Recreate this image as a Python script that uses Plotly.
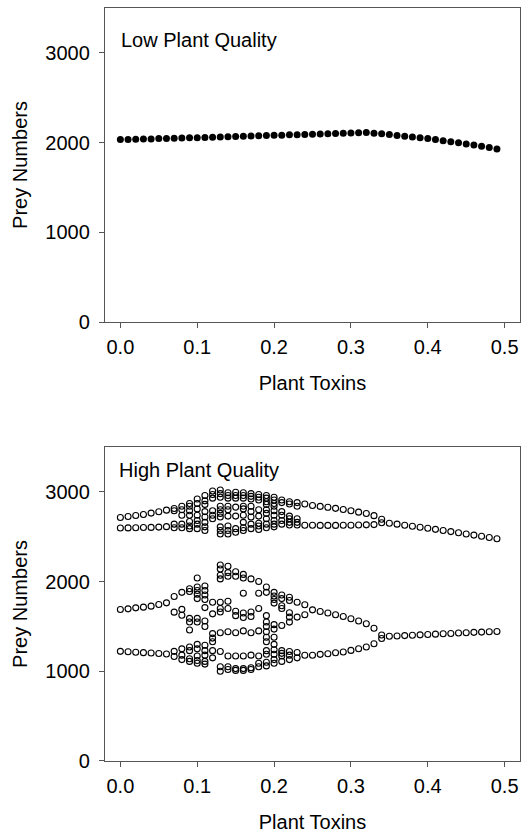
import plotly.graph_objects as go

# ---- data ----
toxins = [0.00, 0.01, 0.02, 0.03, 0.04, 0.05, 0.06, 0.07, 0.08, 0.09,
          0.10, 0.11, 0.12, 0.13, 0.14, 0.15, 0.16, 0.17, 0.18, 0.19,
          0.20, 0.21, 0.22, 0.23, 0.24, 0.25, 0.26, 0.27, 0.28, 0.29,
          0.30, 0.31, 0.32, 0.33, 0.34, 0.35, 0.36, 0.37, 0.38, 0.39,
          0.40, 0.41, 0.42, 0.43, 0.44, 0.45, 0.46, 0.47, 0.48, 0.49]

low_quality_prey = [2033, 2035, 2037, 2039, 2041, 2044, 2046, 2048, 2050, 2053,
                    2055, 2057, 2060, 2062, 2064, 2067, 2070, 2072, 2075, 2078,
                    2081, 2083, 2086, 2088, 2091, 2093, 2096, 2099, 2102, 2104,
                    2107, 2110, 2111, 2104, 2097, 2089, 2080, 2071, 2062, 2053,
                    2044, 2033, 2021, 2009, 1997, 1985, 1972, 1958, 1944, 1929]

# High plant quality: all attractor values observed at each toxin level
high_upper_band = [
    [2715, 2597], [2726, 2598], [2737, 2600], [2748, 2602], [2763, 2604],
    [2778, 2607], [2796, 2612],
    [2815, 2790, 2640, 2600],
    [2840, 2800, 2740, 2640, 2600],
    [2870, 2840, 2790, 2740, 2670, 2620, 2590],
    [2920, 2870, 2810, 2740, 2680, 2640, 2590],
    [2960, 2900, 2860, 2780, 2720, 2660, 2610, 2570],
    [3010, 2970, 2930, 2790, 2740, 2700],
    [3020, 2980, 2940, 2840, 2800, 2760, 2720, 2610, 2570, 2530],
    [2990, 2960, 2930, 2840, 2800, 2730, 2620, 2570, 2530],
    [2995, 2960, 2930, 2830, 2730, 2590, 2550],
    [2990, 2960, 2930, 2840, 2810, 2740, 2660, 2600, 2570],
    [2980, 2950, 2920, 2840, 2780, 2720, 2640, 2590],
    [2970, 2940, 2910, 2800, 2730, 2650, 2620, 2580],
    [2960, 2930, 2890, 2860, 2800, 2760, 2700, 2640, 2600],
    [2940, 2910, 2870, 2840, 2790, 2740, 2680, 2640, 2610],
    [2910, 2880, 2780, 2740, 2680, 2640],
    [2890, 2865, 2730, 2700, 2660, 2630],
    [2880, 2840, 2700, 2660, 2630],
    [2865, 2628],
    [2848, 2627], [2838, 2626], [2828, 2626], [2816, 2626], [2804, 2627],
    [2790, 2628], [2774, 2630], [2758, 2632], [2735, 2635],
    [2695, 2655],
    [2650], [2640], [2628], [2617], [2606], [2594], [2582], [2569],
    [2557], [2544], [2531], [2518], [2505], [2492], [2478],
]

high_lower_band = [
    [1689, 1222], [1696, 1218], [1707, 1213], [1715, 1208], [1726, 1203],
    [1744, 1198], [1763, 1192],
    [1833, 1659, 1222, 1165],
    [1880, 1690, 1625, 1250, 1180, 1130],
    [1920, 1890, 1590, 1550, 1460, 1270, 1230, 1140, 1110],
    [2040, 1940, 1900, 1860, 1810, 1590, 1550, 1300, 1250, 1170, 1120, 1090],
    [1950, 1900, 1850, 1800, 1710, 1560, 1500, 1290, 1230, 1180, 1110, 1080],
    [1770, 1640, 1420, 1370, 1330, 1230, 1150],
    [2185, 2140, 2070, 2030, 1770, 1700, 1660, 1430, 1220, 1050, 1000],
    [2170, 2100, 2060, 1780, 1700, 1440, 1170, 1050, 1020],
    [2110, 2060, 1670, 1620, 1430, 1170, 1030, 1010],
    [2080, 2040, 1870, 1650, 1600, 1450, 1170, 1030, 1010],
    [2030, 1660, 1610, 1430, 1180, 1040, 1020],
    [2000, 1870, 1700, 1450, 1170, 1090, 1050],
    [1940, 1880, 1620, 1550, 1500, 1440, 1380, 1330, 1230, 1190, 1100, 1060],
    [1880, 1840, 1800, 1760, 1520, 1470, 1380, 1300, 1240, 1190, 1130, 1090],
    [1850, 1810, 1730, 1700, 1510, 1230, 1200, 1170, 1110],
    [1826, 1789, 1652, 1604, 1548, 1220, 1180, 1130],
    [1770, 1604, 1210, 1150],
    [1741, 1630, 1178],
    [1685, 1178], [1667, 1189], [1650, 1196], [1630, 1207], [1610, 1215],
    [1585, 1233], [1560, 1252], [1530, 1270], [1480, 1307],
    [1405, 1365],
    [1390], [1394], [1398], [1402], [1406], [1410], [1414], [1418],
    [1422], [1426], [1430], [1434], [1437], [1440], [1443],
]

tick_x = [0.0, 0.1, 0.2, 0.3, 0.4, 0.5]
tick_x_text = ["0.0", "0.1", "0.2", "0.3", "0.4", "0.5"]
tick_y = [0, 1000, 2000, 3000]

# ---- build high-quality point cloud ----
hx, hy = [], []
for t, up, lo in zip(toxins, high_upper_band, high_lower_band):
    for v in up + lo:
        hx.append(t)
        hy.append(v)

FONT = "Liberation Sans, Arial, sans-serif"
FS = 20
LINE = "#555555"

fig = go.Figure()
fig.add_trace(go.Scatter(
    x=toxins, y=low_quality_prey, mode="markers",
    marker=dict(symbol="circle", size=7, color="black"),
    xaxis="x", yaxis="y", showlegend=False))
fig.add_trace(go.Scatter(
    x=hx, y=hy, mode="markers",
    marker=dict(symbol="circle-open", size=6, color="black", line=dict(width=1.1, color="black")),
    xaxis="x2", yaxis="y2", showlegend=False))

axis_common = dict(showline=True, linecolor=LINE, linewidth=1.3, mirror=True,
                   ticks="outside", ticklen=5, tickcolor=LINE, tickwidth=1.3,
                   showgrid=False, zeroline=False,
                   tickfont=dict(family=FONT, size=FS, color="black"))

xa = dict(axis_common, range=[-0.02, 0.52], tickvals=tick_x, ticktext=tick_x_text,
          ticklabelstandoff=2,
          title=dict(text="Plant Toxins", font=dict(family=FONT, size=FS, color="black"), standoff=18))
ya = dict(axis_common, range=[0, 3500], tickvals=tick_y, ticklabelstandoff=5,
          title=dict(text="Prey Numbers", font=dict(family=FONT, size=FS, color="black"), standoff=12))

fig.update_layout(
    width=523, height=839,
    margin=dict(l=105, r=3, t=8, b=78),
    paper_bgcolor="white", plot_bgcolor="white",
    xaxis=dict(xa, domain=[0, 1], anchor="y"),
    yaxis=dict(ya, domain=[0.583, 1], anchor="x"),
    xaxis2=dict(xa, domain=[0, 1], anchor="y2"),
    yaxis2=dict(ya, domain=[0, 0.417], anchor="x2"),
    annotations=[
        dict(text="Low Plant Quality", xref="x domain", yref="y domain",
             x=0.033, y=0.898, xanchor="left", yanchor="middle", showarrow=False,
             font=dict(family=FONT, size=FS, color="black")),
        dict(text="High Plant Quality", xref="x2 domain", yref="y2 domain",
             x=0.028, y=0.928, xanchor="left", yanchor="middle", showarrow=False,
             font=dict(family=FONT, size=FS, color="black")),
    ],
)

fig.write_html("out.html")
